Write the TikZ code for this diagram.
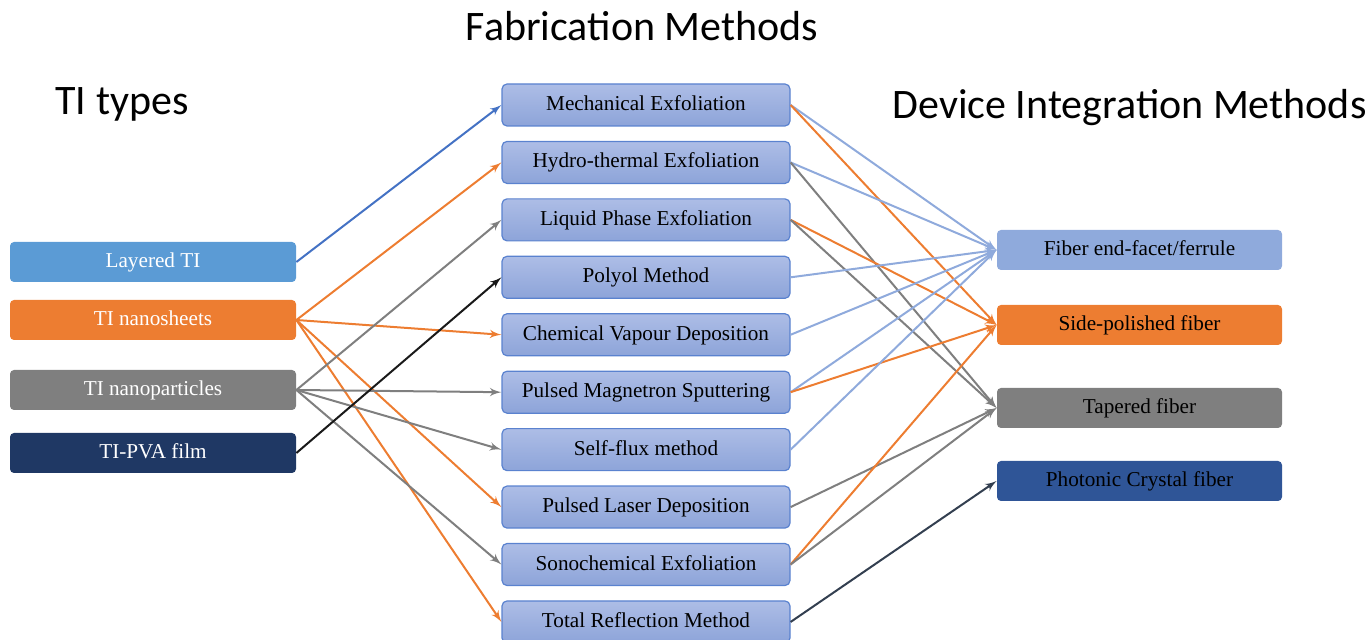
\documentclass[tikz,border=0pt]{standalone}
\usepackage{fontspec}
\setmainfont{Liberation Serif}
\newfontfamily\headfont{Carlito}
\usepackage{tikz}
\usetikzlibrary{shapes,arrows}
\definecolor{tiblue}{HTML}{5B9BD5}
\definecolor{tiorange}{HTML}{ED7D31}
\definecolor{tigray}{HTML}{7F7F7F}
\definecolor{tinavy}{HTML}{1F3864}
\definecolor{methtop}{HTML}{ADBDE6}
\definecolor{methbot}{HTML}{8DA4D9}
\definecolor{methedge}{HTML}{5A82CF}
\definecolor{facetblue}{HTML}{8FAADC}
\definecolor{pcfblue}{HTML}{2F5597}
\definecolor{linkblue}{HTML}{4472C4}
\definecolor{linkdark}{HTML}{333F50}
\tikzstyle{tibox} = [rectangle, rounded corners=2pt, minimum width=143pt,
    minimum height=20pt, text height=0.75em, text depth=0.2em,
    text=white, font=\fontsize{10.6}{12}\selectfont]
\tikzstyle{method} = [rectangle, rounded corners=2.5pt, draw=methedge, line width=0.6pt,
    top color=methtop, bottom color=methbot, minimum width=144pt, minimum height=21pt,
    text height=0.75em, text depth=0.2em, font=\fontsize{10.6}{12}\selectfont]
\tikzstyle{device} = [rectangle, rounded corners=2pt, minimum width=142.5pt,
    minimum height=20pt, text height=0.75em, text depth=0.2em,
    font=\fontsize{10.6}{12}\selectfont]
\tikzstyle{heading} = [font=\headfont\fontsize{21}{25}\selectfont]
\tikzstyle{link} = [draw, line width=1pt, -latex']

\begin{document}
\begin{tikzpicture}[node distance = 28.72pt, auto]
    \useasboundingbox (0,0) rectangle (686pt,-320pt);
    % headings
    \node [heading] (fabhead) at (321pt,-13pt) {Fabrication Methods};
    \node [heading] (typehead) at (61pt,-52pt) {TI types};
    \node [heading] (devhead) at (564.75pt,-54pt) {Device Integration Methods};
    % TI types
    \node [tibox, fill=tiblue] (layered) at (76.5pt,-131pt) {Layered TI};
    \node [tibox, fill=tiorange, below of=layered, node distance=29pt] (sheets) {TI nanosheets};
    \node [tibox, fill=tigray, below of=sheets, node distance=35pt] (particles) {TI nanoparticles};
    \node [tibox, fill=tinavy, below of=particles, node distance=31.5pt] (pva) {TI-PVA film};
    % fabrication methods
    \node [method] (mech) at (323pt,-52.5pt) {Mechanical Exfoliation};
    \node [method, below of=mech] (hydro) {Hydro-thermal Exfoliation};
    \node [method, below of=hydro] (liquid) {Liquid Phase Exfoliation};
    \node [method, below of=liquid] (polyol) {Polyol Method};
    \node [method, below of=polyol] (cvd) {Chemical Vapour Deposition};
    \node [method, below of=cvd] (sputter) {Pulsed Magnetron Sputtering};
    \node [method, below of=sputter] (selfflux) {Self-flux method};
    \node [method, below of=selfflux] (pld) {Pulsed Laser Deposition};
    \node [method, below of=pld] (sono) {Sonochemical Exfoliation};
    \node [method, below of=sono] (totalref) {Total Reflection Method};
    % device integration
    \node [device, fill=facetblue] (facet) at (569.75pt,-125pt) {Fiber end-facet/ferrule};
    \node [device, fill=tiorange, below of=facet, node distance=37.5pt] (side) {Side-polished fiber};
    \node [device, fill=tigray, below of=side, node distance=41.5pt] (taper) {Tapered fiber};
    \node [device, fill=pcfblue, below of=taper, node distance=36.5pt] (pcf) {Photonic Crystal fiber};
    % types -> methods
    \path [link, draw=linkblue] (layered.east) -- (mech.west);
    \path [link, draw=tiorange] (sheets.east) -- (hydro.west);
    \path [link, draw=tiorange] (sheets.east) -- (cvd.west);
    \path [link, draw=tiorange] (sheets.east) -- (pld.west);
    \path [link, draw=tiorange] (sheets.east) -- (totalref.west);
    \path [link, draw=tigray] (particles.east) -- (liquid.west);
    \path [link, draw=tigray] (particles.east) -- (sputter.west);
    \path [link, draw=tigray] (particles.east) -- (selfflux.west);
    \path [link, draw=tigray] (particles.east) -- (sono.west);
    \path [link, draw=black!90] (pva.east) -- (polyol.west);
    % methods -> devices
    \path [link, draw=facetblue] (mech.east) -- (facet.west);
    \path [link, draw=tiorange] (mech.east) -- (side.west);
    \path [link, draw=facetblue] (hydro.east) -- (facet.west);
    \path [link, draw=tigray] (hydro.east) -- (taper.west);
    \path [link, draw=tiorange] (liquid.east) -- (side.west);
    \path [link, draw=tigray] (liquid.east) -- (taper.west);
    \path [link, draw=facetblue] (polyol.east) -- (facet.west);
    \path [link, draw=facetblue] (cvd.east) -- (facet.west);
    \path [link, draw=facetblue] (sputter.east) -- (facet.west);
    \path [link, draw=tiorange] (sputter.east) -- (side.west);
    \path [link, draw=facetblue] (selfflux.east) -- (facet.west);
    \path [link, draw=tigray] (pld.east) -- (taper.west);
    \path [link, draw=tiorange] (sono.east) -- (side.west);
    \path [link, draw=tigray] (sono.east) -- (taper.west);
    \path [link, draw=linkdark] (totalref.east) -- (pcf.west);
\end{tikzpicture}
\end{document}
